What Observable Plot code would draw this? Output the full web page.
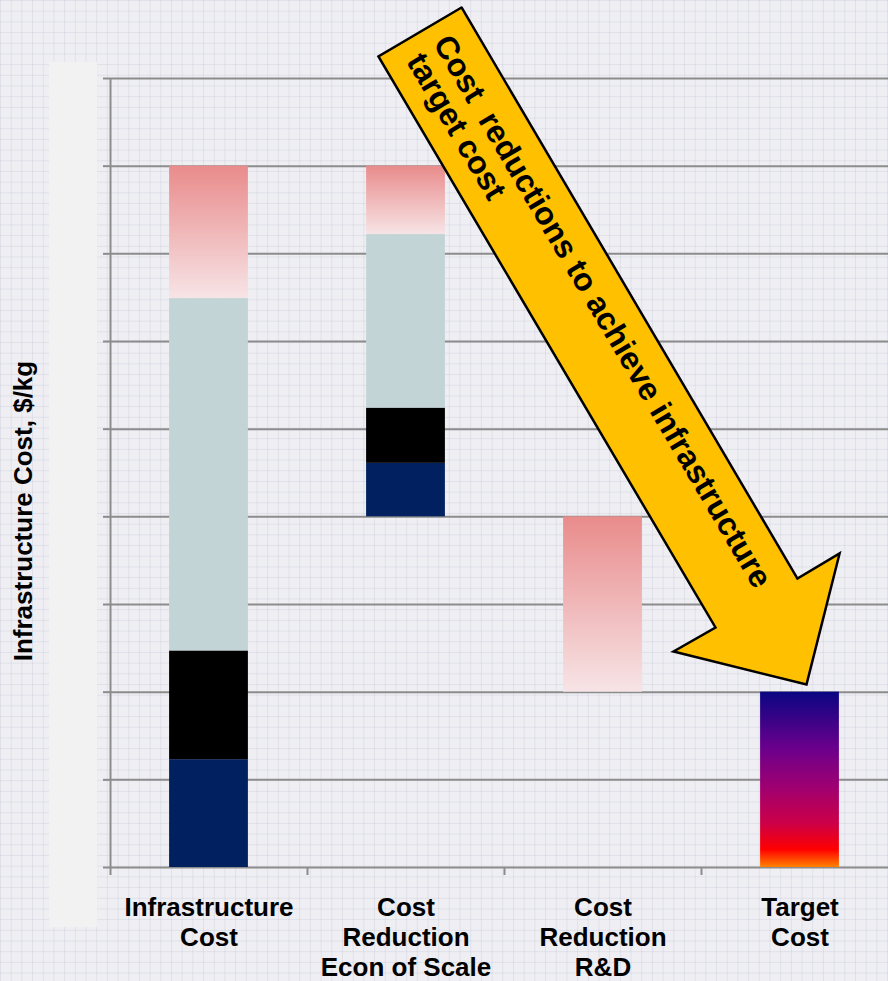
<!DOCTYPE html>
<html>
<head>
<meta charset="utf-8">
<script src="https://cdn.jsdelivr.net/npm/d3@7"></script>
<script src="https://cdn.jsdelivr.net/npm/@observablehq/plot@0.6"></script>
<style>
  html, body { margin: 0; padding: 0; }
  body {
    width: 888px; height: 981px; overflow: hidden; position: relative;
    background-color: #EEEEF3;
    background-image:
      linear-gradient(to right, rgba(175,175,200,0.22) 1px, transparent 1px),
      linear-gradient(to bottom, rgba(175,175,200,0.22) 1px, transparent 1px);
    background-size: 10.7px 10.7px;
  }
  #panel { position: absolute; left: 49px; top: 62px; width: 48px; height: 865px; background: #F2F2F2; }
  #chart { position: absolute; left: 0; top: 0; }
  #chart svg text { white-space: pre; }
</style>
</head>
<body>
<div id="panel"></div>
<div id="chart"></div>
<script>
// ---- data ----
const categories = ["Infrastructure\nCost", "Cost\nReduction\nEcon of Scale", "Cost\nReduction\nR&D", "Target\nCost"];
const segCategory = [0, 0, 0, 0, 1, 1, 1, 1, 2, 3];
const segLow  = [0.00, 1.23, 2.47, 6.49, 4.00, 4.61, 5.24, 7.22, 2.00, 0.00];
const segHigh = [1.23, 2.47, 6.49, 8.00, 4.61, 5.24, 7.22, 8.00, 4.00, 2.00];
const segType = ["navy", "black", "gray", "pink", "navy", "black", "gray", "pink", "pink", "target"];
const yTicks = [0, 1, 2, 3, 4, 5, 6, 7, 8, 9];
const yLabel = "Infrastructure Cost, $/kg";
const arrowX = [1.782, 3.487, 3.701, 3.533, 2.858, 3.071, 1.360, 1.782];
const arrowY = [9.81, 3.296, 3.582, 2.087, 2.464, 2.738, 9.251, 9.81];
const arrowText = ["Cost  reductions to achieve infrastructure", "target cost"];
const arrowTextX = [1.679, 1.544];
const arrowTextY = [9.461, 9.257];

// ---- tables ----
const segments = segCategory.map((c, i) => ({cat: c, low: segLow[i], high: segHigh[i], type: segType[i]}));
const arrowPts = arrowX.map((x, i) => ({x, y: arrowY[i]}));
const fills = {navy: "#002060", black: "#000000", gray: "#C3D4D6", pink: "url(#pinkGrad)", target: "url(#targetGrad)"};
const barPad = 0.3;
const font = "Liberation Sans, Arial, Helvetica, sans-serif";
const axisGray = "#8C8C8C";

const segMarks = Object.keys(fills).map(t =>
  Plot.rect(segments.filter(d => d.type === t), {
    x1: d => d.cat + barPad, x2: d => d.cat + 1 - barPad,
    y1: "low", y2: "high", fill: fills[t]
  })
);

const chart = Plot.plot({
  width: 888, height: 981,
  marginLeft: 110, marginRight: 0, marginTop: 78, marginBottom: 114,
  style: {background: "transparent", fontFamily: font, overflow: "visible"},
  x: {type: "linear", domain: [0, 778 / 197]},
  y: {domain: [0, 9]},
  marks: [
    Plot.gridY(yTicks, {stroke: axisGray, strokeOpacity: 1, strokeWidth: 2}),
    Plot.axisY(yTicks, {tickSize: 7, tickFormat: () => "", stroke: axisGray, strokeWidth: 2, label: null}),
    Plot.axisX([0, 1, 2, 3], {tickSize: 8, tickFormat: () => "", stroke: axisGray, strokeWidth: 2, label: null}),
    Plot.ruleX([0], {y1: 0, y2: 9, stroke: axisGray, strokeWidth: 2}),
    ...segMarks,
    Plot.line(arrowPts, {x: "x", y: "y", fill: "#FFC000", stroke: "#000", strokeWidth: 2.5, strokeLinejoin: "miter", strokeMiterlimit: 10}),
    Plot.text(arrowText, {
      x: (d, i) => arrowTextX[i], y: (d, i) => arrowTextY[i], text: d => d,
      rotate: 59.5, textAnchor: "start", lineAnchor: "middle",
      fontSize: 32, fontWeight: "bold", fill: "#000"
    }),
    Plot.text(categories, {
      x: (d, i) => i + 0.5, frameAnchor: "bottom", dy: 27, text: d => d,
      lineAnchor: "top", lineHeight: 1.16, textAnchor: "middle",
      fontSize: 26, fontWeight: "bold", fill: "#000"
    }),
    Plot.text([yLabel], {
      frameAnchor: "left", dx: -87, y: () => 4.066, text: d => d,
      rotate: -90, textAnchor: "middle", lineAnchor: "middle",
      fontSize: 26, fontWeight: "bold", fill: "#000"
    })
  ]
});

// gradients
const svg = d3.select(chart.tagName.toLowerCase() === "svg" ? chart : chart.querySelector("svg"));
const defs = svg.insert("defs", ":first-child");
const pink = defs.append("linearGradient").attr("id", "pinkGrad").attr("x1", 0).attr("y1", 0).attr("x2", 0).attr("y2", 1);
pink.append("stop").attr("offset", 0).attr("stop-color", "#E98B8B");
pink.append("stop").attr("offset", 1).attr("stop-color", "#F7E4E6");
const tg = defs.append("linearGradient").attr("id", "targetGrad").attr("x1", 0).attr("y1", 0).attr("x2", 0).attr("y2", 1);
[[0, "#0A0682"], [0.32, "#6A008C"], [0.55, "#A00070"], [0.75, "#CC0048"], [0.9, "#FF0000"], [1, "#FF8200"]]
  .forEach(([o, c]) => tg.append("stop").attr("offset", o).attr("stop-color", c));

document.getElementById("chart").appendChild(chart);
</script>
</body>
</html>
